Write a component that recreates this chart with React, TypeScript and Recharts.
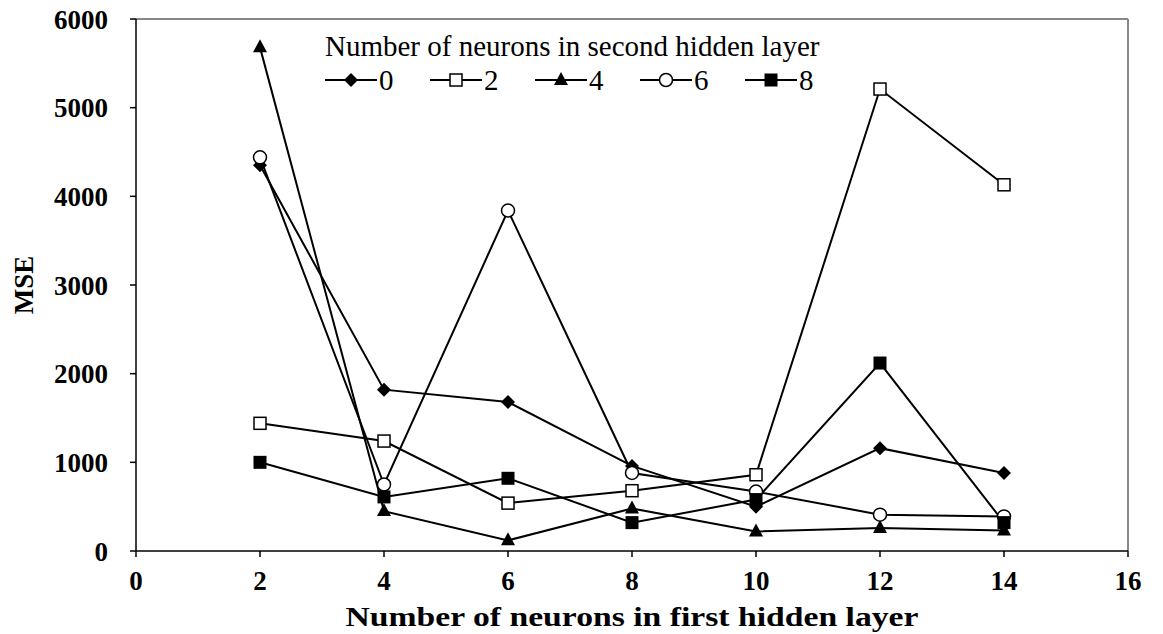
import { Line, LineChart, ReferenceLine, XAxis, YAxis } from "recharts";

// neurons in the first hidden layer
const firstLayer = [2, 4, 6, 8, 10, 12, 14];

// MSE per count of neurons in the second hidden layer
const mse0 = [4350, 1820, 1680, 960, 500, 1160, 880];
const mse2 = [1440, 1240, 540, 680, 860, 5210, 4130];
const mse4 = [5680, 450, 120, 480, 220, 260, 230];
const mse6 = [4440, 750, 3840, 880, 670, 410, 390];
const mse8 = [1000, 610, 820, 320, 580, 2120, 320];

const xTicks = [0, 2, 4, 6, 8, 10, 12, 14, 16];
const yTicks = [0, 1000, 2000, 3000, 4000, 5000, 6000];

type Shape = "diamond" | "openSquare" | "triangle" | "openCircle" | "square";

const seriesList: { key: string; label: string; shape: Shape; values: number[] }[] = [
  { key: "s0", label: "0", shape: "diamond", values: mse0 },
  { key: "s2", label: "2", shape: "openSquare", values: mse2 },
  { key: "s4", label: "4", shape: "triangle", values: mse4 },
  { key: "s6", label: "6", shape: "openCircle", values: mse6 },
  { key: "s8", label: "8", shape: "square", values: mse8 },
];

const data = firstLayer.map((n, i) => {
  const row: Record<string, number> = { n };
  seriesList.forEach((s) => {
    row[s.key] = s.values[i];
  });
  return row;
});

const FONT = '"Liberation Serif", "Times New Roman", serif';

function Marker({ shape, cx, cy }: { shape: Shape; cx: number; cy: number }) {
  switch (shape) {
    case "diamond":
      return <polygon points={`${cx},${cy - 7} ${cx + 7},${cy} ${cx},${cy + 7} ${cx - 7},${cy}`} fill="#000" />;
    case "openSquare":
      return <rect x={cx - 6} y={cy - 6} width={12} height={12} fill="#fff" stroke="#000" strokeWidth={1.5} />;
    case "triangle":
      return <polygon points={`${cx},${cy - 8} ${cx + 7},${cy + 5} ${cx - 7},${cy + 5}`} fill="#000" />;
    case "openCircle":
      return <circle cx={cx} cy={cy} r={6.5} fill="#fff" stroke="#000" strokeWidth={1.5} />;
    default:
      return <rect x={cx - 6.5} y={cy - 6.5} width={13} height={13} fill="#000" />;
  }
}

function makeDot(shape: Shape) {
  return (props: any) => {
    const { cx, cy, index } = props;
    if (cx == null || cy == null) return <g key={index} />;
    return (
      <g key={`${shape}-${index}`}>
        <Marker shape={shape} cx={cx} cy={cy} />
      </g>
    );
  };
}

// legend sits inside the plot area, over the empty top region
function LegendBox() {
  return (
    <div style={{ position: "absolute", left: 325, top: 29, fontFamily: FONT, color: "#000" }}>
      <div style={{ fontSize: 29, lineHeight: "34px" }}>Number of neurons in second hidden layer</div>
      <div style={{ display: "flex", alignItems: "center", height: 34 }}>
        {seriesList.map((s) => (
          <div key={s.key} style={{ display: "flex", alignItems: "center", width: 105 }}>
            <svg width={52} height={20}>
              <line x1={0} y1={10} x2={52} y2={10} stroke="#000" strokeWidth={2} />
              <Marker shape={s.shape} cx={26} cy={10} />
            </svg>
            <span style={{ fontSize: 29, marginLeft: 2 }}>{s.label}</span>
          </div>
        ))}
      </div>
    </div>
  );
}

export default function App() {
  return (
    <div style={{ position: "absolute", left: 0, top: 0, width: 1163, height: 634, background: "#fff" }}>
      <LineChart width={1163} height={634} data={data} margin={{ top: 19, right: 35, left: 0, bottom: 0 }}>
        <XAxis
          dataKey="n"
          type="number"
          domain={[0, 16]}
          ticks={xTicks}
          height={83}
          stroke="#000"
          strokeWidth={1.5}
          tickSize={6}
          tickMargin={14}
          tick={{ fill: "#000", fontFamily: FONT, fontSize: 27, fontWeight: "bold" }}
          label={({ viewBox }: any) => (
            <text
              x={viewBox.x + viewBox.width / 2}
              y={626}
              textAnchor="middle"
              textLength={573}
              lengthAdjust="spacingAndGlyphs"
              fontFamily={FONT}
              fontSize={27}
              fontWeight="bold"
              fill="#000"
            >
              Number of neurons in first hidden layer
            </text>
          )}
        />
        <YAxis
          type="number"
          domain={[0, 6000]}
          ticks={yTicks}
          width={136}
          stroke="#000"
          strokeWidth={1.5}
          tickSize={6}
          tickMargin={22}
          tick={{ fill: "#000", fontFamily: FONT, fontSize: 27, fontWeight: "bold" }}
          label={({ viewBox }: any) => {
            const cy = viewBox.y + viewBox.height / 2;
            return (
              <text
                x={33}
                y={cy}
                transform={`rotate(-90, 33, ${cy})`}
                textAnchor="middle"
                fontFamily={FONT}
                fontSize={27}
                fontWeight="bold"
                fill="#000"
              >
                MSE
              </text>
            );
          }}
        />
        <ReferenceLine y={6000} stroke="#888" strokeWidth={2} ifOverflow="visible" />
        <ReferenceLine x={16} stroke="#888" strokeWidth={2} ifOverflow="visible" />
        {seriesList.map((s) => (
          <Line
            key={s.key}
            dataKey={s.key}
            stroke="#000"
            strokeWidth={2}
            dot={makeDot(s.shape)}
            activeDot={false}
            isAnimationActive={false}
          />
        ))}
      </LineChart>
      <LegendBox />
    </div>
  );
}
